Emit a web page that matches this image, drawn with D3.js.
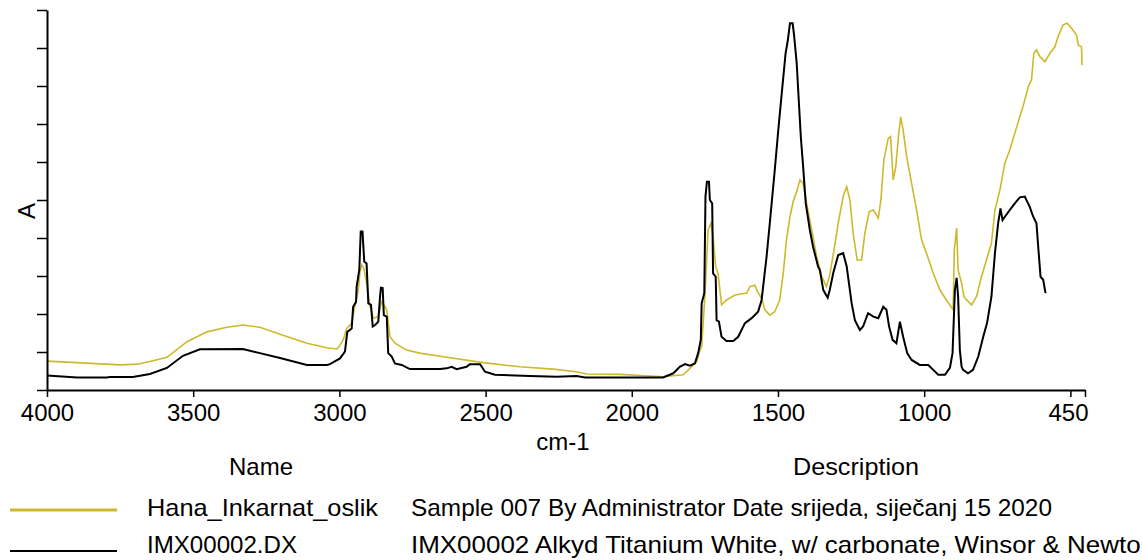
<!DOCTYPE html>
<html>
<head>
<meta charset="utf-8">
<script src="https://cdn.jsdelivr.net/npm/d3@7"></script>
<style>
  html, body { margin: 0; padding: 0; background: #fff; overflow: hidden; }
  svg { display: block; }
  text { font-family: "Liberation Sans", Arial, sans-serif; fill: #000; }
</style>
</head>
<body>
<svg id="chart" width="1142" height="560"></svg>
<script>
// ---- data ----
const blackWn = [4000,3897,3795,3785,3706,3648,3590,3535,3477,3330,
3272,3203,3111,3043,3032,2998,2981,2973,2958,2953,
2943,2941,2932,2927,2921,2915,2907,2901,2892,2886,
2878,2867,2861,2858,2852,2848,2838,2833,2821,2810,
2787,2759,2656,2633,2616,2599,2565,2554,2519,2502,
2468,2348,2257,2189,2160,1893,1858,1836,1818,1801,
1784,1773,1764,1761,1752,1748,1743,1736,1733,1725,
1722,1713,1710,1702,1693,1676,1653,1636,1613,1590,
1568,1556,1539,1528,1511,1499,1486,1474,1467,1459,
1450,1445,1436,1429,1422,1414,1405,1391,1380,1363,
1357,1345,1330,1323,1311,1294,1277,1265,1248,1237,
1220,1209,1192,1174,1157,1140,1129,1120,1108,1095,
1083,1072,1058,1043,1015,986,969,952,929,912,
903,895,889,884,878,872,867,850,833,815,
798,785,770,758,747,739,732,724,707,690,
673,656,639,627,616,610,602,593,585];
const blackAbs = [0.038,0.033,0.033,0.034,0.034,0.042,0.058,0.090,0.107,0.108,
0.097,0.084,0.066,0.066,0.068,0.083,0.101,0.153,0.162,0.219,
0.232,0.272,0.316,0.417,0.417,0.338,0.333,0.228,0.224,0.167,
0.171,0.180,0.246,0.269,0.268,0.197,0.193,0.097,0.088,0.070,
0.066,0.055,0.055,0.057,0.061,0.055,0.061,0.068,0.068,0.048,
0.040,0.037,0.035,0.037,0.033,0.033,0.044,0.061,0.068,0.064,
0.070,0.097,0.132,0.228,0.255,0.509,0.548,0.548,0.500,0.491,
0.307,0.298,0.184,0.180,0.140,0.129,0.129,0.140,0.176,0.189,
0.206,0.237,0.351,0.439,0.579,0.684,0.790,0.886,0.917,0.965,
0.965,0.934,0.860,0.763,0.667,0.588,0.491,0.421,0.377,0.325,
0.316,0.263,0.243,0.263,0.308,0.355,0.360,0.325,0.228,0.184,
0.158,0.167,0.202,0.193,0.189,0.219,0.211,0.167,0.132,0.123,
0.180,0.140,0.097,0.079,0.066,0.066,0.053,0.040,0.040,0.058,
0.097,0.263,0.295,0.246,0.105,0.061,0.053,0.044,0.053,0.088,
0.140,0.176,0.246,0.360,0.439,0.478,0.447,0.456,0.474,0.491,
0.507,0.509,0.482,0.456,0.439,0.377,0.298,0.290,0.255];

const yellowWn = [4000,3897,3750,3692,3648,3590,3521,3453,3385,3330,
3272,3203,3111,3043,3008,2998,2987,2975,2958,2943,
2936,2930,2924,2916,2907,2896,2884,2867,2856,2844,
2838,2827,2810,2770,2725,2633,2508,2383,2269,2189,
2155,2041,1893,1824,1801,1778,1767,1761,1750,1739,
1729,1722,1713,1705,1693,1676,1647,1607,1596,1579,
1570,1556,1545,1528,1511,1494,1482,1471,1459,1448,
1436,1425,1414,1402,1391,1380,1368,1351,1334,1323,
1308,1294,1277,1265,1254,1243,1229,1214,1203,1188,
1174,1157,1148,1138,1123,1115,1106,1097,1087,1080,
1072,1060,1043,1026,1009,992,969,946,924,901,
897,889,884,872,864,855,838,821,804,787,
770,758,741,724,707,690,673,662,644,633,
625,616,604,587,570,553,542,525,511,496,
479,473,462,460];
const yellowAbs = [0.076,0.072,0.066,0.068,0.075,0.086,0.127,0.153,0.165,0.171,
0.165,0.147,0.123,0.111,0.108,0.118,0.132,0.162,0.176,0.237,
0.259,0.307,0.329,0.320,0.281,0.224,0.189,0.193,0.232,0.219,
0.211,0.140,0.123,0.105,0.097,0.086,0.072,0.061,0.055,0.048,
0.042,0.041,0.035,0.040,0.057,0.075,0.105,0.114,0.246,0.421,
0.439,0.403,0.325,0.307,0.224,0.237,0.250,0.255,0.272,0.276,
0.259,0.241,0.211,0.197,0.206,0.237,0.307,0.395,0.456,0.496,
0.522,0.553,0.544,0.491,0.447,0.403,0.351,0.300,0.272,0.303,
0.370,0.439,0.509,0.535,0.500,0.412,0.342,0.342,0.412,0.469,
0.474,0.452,0.500,0.605,0.662,0.667,0.553,0.588,0.676,0.719,
0.684,0.614,0.544,0.474,0.395,0.360,0.307,0.263,0.237,0.211,
0.368,0.426,0.316,0.281,0.246,0.237,0.224,0.246,0.298,0.342,
0.386,0.474,0.526,0.597,0.632,0.676,0.719,0.746,0.798,0.816,
0.886,0.895,0.877,0.864,0.886,0.903,0.930,0.961,0.965,0.952,
0.934,0.908,0.903,0.855];

const xTickValues = [4000,3500,3000,2500,2000,1500,1000,500,450];
const xTickLabels = ["4000","3500","3000","2500","2000","1500","1000","","450"];
const yTickValues = [0,0.1,0.2,0.3,0.4,0.5,0.6,0.7,0.8,0.9,1.0];

const seriesNames = ["Hana_Inkarnat_oslik", "IMX00002.DX"];
const seriesDescriptions = [
  "Sample 007 By Administrator Date srijeda, siječanj 15 2020",
  "IMX00002 Alkyd Titanium White, w/ carbonate, Winsor & Newton"
];
const seriesColors = ["#cdb92e", "#000000"];

// ---- drawing ----
const svg = d3.select("#chart");
const FS = 24;

const x = d3.scaleLinear().domain([4000, 450]).range([47, 1085]);
const y = d3.scaleLinear().domain([0, 1]).range([390, 10]);

const line = d3.line().x(d => x(d[0])).y(d => y(d[1]));
const yellowData = d3.zip(yellowWn, yellowAbs);
const blackData = d3.zip(blackWn, blackAbs);

svg.append("path").datum(yellowData)
  .attr("d", line).attr("fill", "none")
  .attr("stroke", seriesColors[0]).attr("stroke-width", 1.6);
svg.append("path").datum(blackData)
  .attr("d", line).attr("fill", "none")
  .attr("stroke", seriesColors[1]).attr("stroke-width", 2);

// x axis
const xAxis = d3.axisBottom(x)
  .tickValues(xTickValues)
  .tickFormat((d, i) => xTickLabels[i])
  .tickSize(7).tickSizeOuter(0).tickPadding(7);
const gx = svg.append("g").attr("transform", "translate(0,390)").call(xAxis);
gx.select(".domain").attr("stroke", "#000").attr("stroke-width", 2);
gx.selectAll(".tick line").attr("stroke", "#000").attr("stroke-width", 1.5);
gx.selectAll(".tick text")
  .attr("font-family", "Liberation Sans, Arial, sans-serif")
  .attr("font-size", FS).attr("fill", "#000");
gx.selectAll(".tick text").filter((d) => d === 450)
  .attr("text-anchor", "end").attr("dx", 3);

// y axis
const yAxis = d3.axisLeft(y)
  .tickValues(yTickValues)
  .tickFormat("")
  .tickSize(10).tickSizeOuter(0);
const gy = svg.append("g").attr("transform", "translate(47,0)").call(yAxis);
gy.select(".domain").attr("stroke", "#000").attr("stroke-width", 2);
gy.selectAll(".tick line").attr("stroke", "#000").attr("stroke-width", 1.5);

// axis titles
svg.append("text")
  .attr("transform", "translate(35,211) rotate(-90)")
  .attr("text-anchor", "middle").attr("font-size", FS).text("A");
svg.append("text")
  .attr("x", 563).attr("y", 450)
  .attr("text-anchor", "middle").attr("font-size", FS).text("cm-1");

// legend headers
svg.append("text").attr("x", 261).attr("y", 475)
  .attr("text-anchor", "middle").attr("font-size", FS).text("Name");
svg.append("text").attr("x", 856).attr("y", 475)
  .attr("text-anchor", "middle").attr("font-size", FS)
  .attr("textLength", 126).attr("lengthAdjust", "spacingAndGlyphs")
  .text("Description");

// legend rows
const rowBase = [516, 553];
const rowLineY = [510, 551];
const rowLineW = [3, 2];
const nameLen = [231, 150];
const descLen = [641, 744];
seriesNames.forEach((name, i) => {
  svg.append("line")
    .attr("x1", 10).attr("x2", 117)
    .attr("y1", rowLineY[i]).attr("y2", rowLineY[i])
    .attr("stroke", seriesColors[i]).attr("stroke-width", rowLineW[i]);
  svg.append("text").attr("x", 147).attr("y", rowBase[i])
    .attr("font-size", FS)
    .attr("textLength", nameLen[i]).attr("lengthAdjust", "spacingAndGlyphs")
    .text(name);
  svg.append("text").attr("x", 411).attr("y", rowBase[i])
    .attr("font-size", FS)
    .attr("textLength", descLen[i]).attr("lengthAdjust", "spacingAndGlyphs")
    .text(seriesDescriptions[i]);
});
</script>
</body>
</html>
